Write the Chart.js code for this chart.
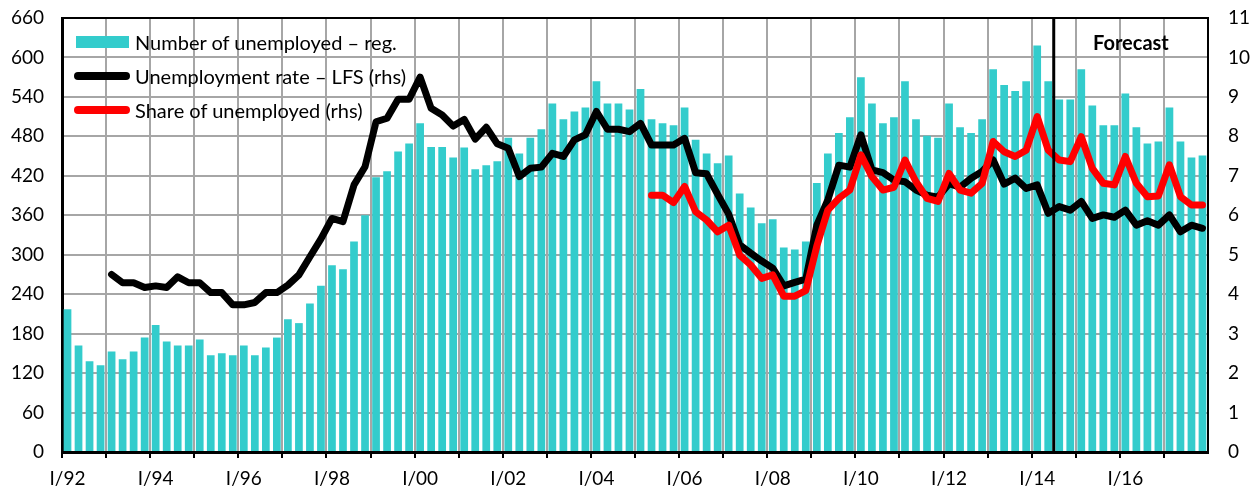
<!DOCTYPE html>
<html>
<head>
<meta charset="utf-8">
<script src="https://cdn.jsdelivr.net/npm/chart.js@4.4.1/dist/chart.umd.min.js"></script>
<style>
  html, body { margin: 0; padding: 0; background: #fff; }
  #wrap { position: relative; width: 1259px; height: 491px; }
  #forecast { position: absolute; left: 1093px; top: 30px; font: bold 20px Lato, sans-serif; color: #000; }
  .leg { position: absolute; left: 74px; height: 24px; display: flex; align-items: center;
         font: 20px Lato, sans-serif; color: #000; white-space: nowrap; }
  .sw { width: 56px; margin-right: 5px; display: flex; justify-content: center; }
  .box { width: 53px; height: 12px; }
  .ln { width: 56px; height: 8px; border-radius: 4px; }
</style>
</head>
<body>
<div id="wrap">
  <canvas id="myChart"></canvas>
  <div id="legend"></div>
  <div id="forecast">Forecast</div>
</div>
<script>
'use strict';

// Quarters I/92 ... IV/17
const years = ['92', '93', '94', '95', '96', '97', '98', '99', '00', '01', '02', '03', '04',
  '05', '06', '07', '08', '09', '10', '11', '12', '13', '14', '15', '16', '17'];
const quarters = ['I', 'II', 'III', 'IV'];
const labels = [];
years.forEach(y => quarters.forEach(q => labels.push(q + '/' + y)));

// Number of unemployed - registered (thousands, lhs)
const registered = [
  217, 162, 138, 132,  153, 141, 153, 174,  193, 168, 162, 162,  171, 147, 150, 147,
  162, 147, 159, 174,  202, 196, 226, 253,  284, 278, 320, 360,  418, 427, 457, 469,
  500, 464, 464, 448,  463, 430, 436, 442,  478, 454, 478, 491,  530, 506, 518, 524,
  564, 530, 530, 521,  552, 506, 500, 497,  524, 475, 454, 439,  451, 393, 372, 348,
  354, 311, 308, 320,  409, 454, 485, 509,  570, 530, 500, 509,  564, 506, 481, 478,
  530, 494, 485, 506,  582, 558, 549, 564,  618, 564, 536, 536,  582, 527, 497, 497,
  545, 494, 469, 472,  524, 472, 448, 451
];

// Unemployment rate - LFS (%, rhs)
const lfsRate = [
  null, null, null, null,  4.5, 4.29, 4.29, 4.17,  4.21, 4.17, 4.44, 4.29,  4.29, 4.04, 4.04, 3.73,
  3.73, 3.79, 4.04, 4.04,  4.23, 4.49, 4.95, 5.4,  5.92, 5.84, 6.77, 7.23,  8.37, 8.46, 8.94, 8.94,
  9.5, 8.71, 8.54, 8.26,  8.43, 7.93, 8.23, 7.81,  7.7, 6.98, 7.19, 7.22,  7.57, 7.49, 7.91, 8.04,
  8.63, 8.18, 8.18, 8.12,  8.33, 7.78, 7.78, 7.78,  7.95, 7.08, 7.05, 6.53,  6.03, 5.25, 5.04, 4.84,
  4.66, 4.21, 4.3, 4.38,  5.75, 6.39, 7.27, 7.22,  8.04, 7.15, 7.08, 6.89,  6.85, 6.64, 6.51, 6.46,
  6.8, 6.71, 6.94, 7.11,  7.4, 6.79, 6.94, 6.68,  6.77, 6.05, 6.22, 6.13,  6.35, 5.92, 6.01, 5.95,
  6.13, 5.75, 5.86, 5.75,  6.01, 5.58, 5.75, 5.67
];

// Share of unemployed (%, rhs)
const shareUnemployed = [
  null, null, null, null,  null, null, null, null,  null, null, null, null,  null, null, null, null,
  null, null, null, null,  null, null, null, null,  null, null, null, null,  null, null, null, null,
  null, null, null, null,  null, null, null, null,  null, null, null, null,  null, null, null, null,
  null, null, null, null,  null, 6.51, 6.51, 6.32,  6.73, 6.09, 5.88, 5.58,  5.75, 4.99, 4.74, 4.4,
  4.49, 3.95, 3.95, 4.09,  5.22, 6.13, 6.43, 6.64,  7.53, 6.98, 6.64, 6.71,  7.4, 6.85, 6.43, 6.35,
  7.06, 6.64, 6.56, 6.81,  7.87, 7.61, 7.49, 7.65,  8.5, 7.65, 7.4, 7.36,  7.99, 7.19, 6.81, 6.77,
  7.49, 6.81, 6.47, 6.49,  7.28, 6.47, 6.26, 6.26
];

const forecastFrom = 'III/14';

const teal = '#33cccc';
const gridGrey = '#a6a6a6';
const font = { family: 'Lato, sans-serif', size: 19 };

// borde superior + linea de pronostico
const framePlugin = {
  id: 'frame',
  afterDatasetsDraw(chart) {
    const { ctx, chartArea, scales } = chart;
    const i = labels.indexOf(forecastFrom);
    const x = (scales.x.getPixelForValue(i - 1) + scales.x.getPixelForValue(i)) / 2;
    ctx.save();
    ctx.strokeStyle = '#000';
    ctx.lineWidth = 2;
    ctx.beginPath();
    ctx.moveTo(chartArea.left, chartArea.top);
    ctx.lineTo(chartArea.right, chartArea.top);
    ctx.stroke();
    ctx.lineWidth = 3;
    ctx.beginPath();
    ctx.moveTo(x, chartArea.top);
    ctx.lineTo(x, chartArea.bottom);
    ctx.stroke();
    ctx.restore();
  }
};

// ancho fijo del eje, sin el relleno extra de las etiquetas
const fixAxis = w => scale => {
  scale.width = w;
  scale.paddingTop = 0;
  scale.paddingBottom = 0;
};

const canvas = document.getElementById('myChart');

const myChart = new Chart(canvas, {
  data: {
    labels: labels,
    datasets: [
      {
        type: 'bar',
        label: 'Number of unemployed – reg.',
        data: registered,
        backgroundColor: teal,
        barPercentage: 0.7,
        categoryPercentage: 1.0,
        yAxisID: 'y',
        order: 2,
      },
      {
        type: 'line',
        label: 'Unemployment rate – LFS (rhs)',
        data: lfsRate,
        borderColor: '#000',
        borderWidth: 7,
        borderJoinStyle: 'round',
        borderCapStyle: 'round',
        pointRadius: 0,
        tension: 0,
        yAxisID: 'y2',
        order: 1,
      },
      {
        type: 'line',
        label: 'Share of unemployed (rhs)',
        data: shareUnemployed,
        borderColor: '#ff0000',
        borderWidth: 7,
        borderJoinStyle: 'round',
        borderCapStyle: 'round',
        pointRadius: 0,
        tension: 0,
        yAxisID: 'y2',
        order: 0,
      },
    ],
  },
  options: {
    responsive: true,
    maintainAspectRatio: false,
    animation: false,
    layout: { padding: { top: 18, left: 0, right: 0, bottom: 0 } },
    plugins: {
      tooltip: { enabled: false },
      legend: { display: false },
    },
    scales: {
      x: {
        type: 'category',
        offset: true,
        grid: {
          offset: true,
          lineWidth: 2,
          color: ctx => (ctx.index % 4 === 0 ? gridGrey : 'transparent'),
          tickColor: ctx => (ctx.index % 4 === 0 ? '#000' : 'transparent'),
          tickLength: 6,
          tickWidth: 2,
        },
        border: { color: '#000', width: 3 },
        ticks: {
          autoSkip: false,
          maxRotation: 0,
          minRotation: 0,
          padding: 9,
          color: '#000',
          font: font,
          callback: function (val, i) {
            return i % 8 === 0 ? this.getLabelForValue(val) : '';
          },
        },
        afterFit(scale) { scale.height = 39; },
      },
      y: {
        position: 'left',
        min: 0,
        max: 660,
        ticks: { stepSize: 60, padding: 18, color: '#000', font: font },
        grid: { color: gridGrey, lineWidth: 2, drawTicks: false },
        border: { color: '#000', width: 3 },
        afterFit: fixAxis(62),
      },
      y2: {
        position: 'right',
        min: 0,
        max: 11,
        ticks: { stepSize: 1, padding: 20, color: '#000', font: font },
        grid: { drawOnChartArea: false, drawTicks: false },
        border: { color: '#000', width: 2 },
        afterFit: fixAxis(51),
      },
    },
  },
  plugins: [framePlugin],
});

// Leyenda dentro del area del grafico
const legend = document.getElementById('legend');
myChart.data.datasets.forEach((ds, i) => {
  const row = document.createElement('div');
  row.className = 'leg';
  row.style.top = (30 + i * 34) + 'px';
  const swatch = ds.type === 'bar'
    ? `<span class="box" style="background:${ds.backgroundColor}"></span>`
    : `<span class="ln" style="background:${ds.borderColor}"></span>`;
  row.innerHTML = `<span class="sw">${swatch}</span><span>${ds.label}</span>`;
  legend.appendChild(row);
});
</script>
</body>
</html>
